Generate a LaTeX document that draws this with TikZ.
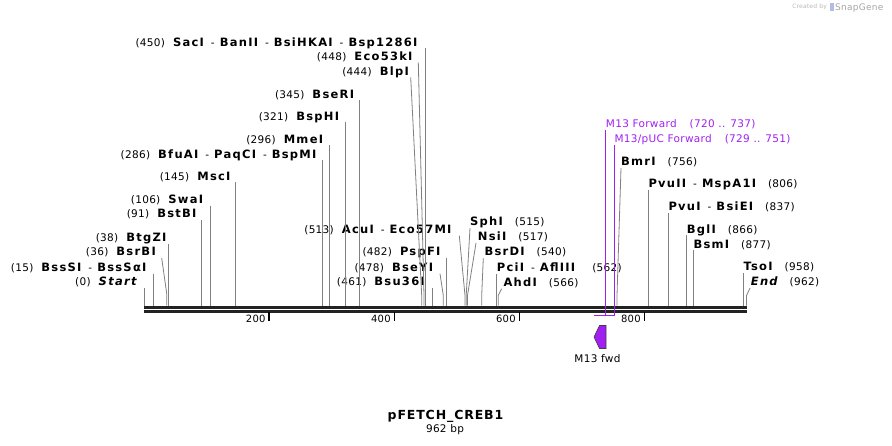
\documentclass[tikz,border=0pt]{standalone}
\usepackage{fontspec}
\setmainfont{DejaVu Sans}[LetterSpace=3]
\newfontfamily\enzfont{DejaVu Sans}[LetterSpace=11]
\newfontfamily\titlefont{DejaVu Sans}[LetterSpace=7]
\usetikzlibrary{positioning}
\definecolor{primer}{HTML}{A020F0}
\definecolor{siteline}{HTML}{808080}
\definecolor{backbone}{HTML}{222222}
\newcommand{\enz}[1]{{\enzfont\bfseries\fontsize{11.5}{12}\selectfont #1}}
\newcommand{\enzit}[1]{{\enzfont\bfseries\itshape\fontsize{11.5}{12}\selectfont #1}}
\newcommand{\dsh}{\hspace{7pt}-\hspace{5pt}}

\begin{document}
\begin{tikzpicture}[x=1pt,y=-1pt,
    lbl/.style={inner sep=0pt,text depth=2.2pt,font=\fontsize{10.5}{12}\selectfont},
    lft/.style={lbl,anchor=base east},
    rgt/.style={lbl,anchor=base west},
    site/.style={siteline,line width=0.8pt},
    primerline/.style={primer,line width=1.3pt}]

    \useasboundingbox (0,0) rectangle (892,445);

    % positions on the backbone
    \coordinate (p0) at (144.3,305.5);
    \coordinate (p15) at (153.3,305.5);
    \coordinate (p36) at (166.7,305.5);
    \coordinate (p38) at (168.3,305.5);
    \coordinate (p91) at (201.7,305.5);
    \coordinate (p106) at (210.3,305.5);
    \coordinate (p145) at (235.7,305.5);
    \coordinate (p286) at (322.5,305.5);
    \coordinate (p296) at (329.3,305.5);
    \coordinate (p321) at (345,305.5);
    \coordinate (p345) at (359.6,305.5);
    \coordinate (p444) at (421.7,305.5);
    \coordinate (p448) at (424,305.5);
    \coordinate (p450) at (425.5,305.5);
    \coordinate (p461) at (432.3,305.5);
    \coordinate (p478) at (443.3,305.5);
    \coordinate (p482) at (446,305.5);
    \coordinate (p513) at (465,305.5);
    \coordinate (p515) at (466.2,305.5);
    \coordinate (p517) at (467.5,305.5);
    \coordinate (p540) at (481.7,305.5);
    \coordinate (p562) at (496.7,305.5);
    \coordinate (p566) at (498.2,305.5);
    \coordinate (p756) at (617,305.5);
    \coordinate (p806) at (648.3,305.5);
    \coordinate (p837) at (668.3,305.5);
    \coordinate (p866) at (686.7,305.5);
    \coordinate (p877) at (693.3,305.5);
    \coordinate (p958) at (743.3,305.5);
    \coordinate (p962) at (746.5,305.5);

    % backbone
    \draw[backbone,line width=3pt] (144,307.2) -- (747,307.2);
    \draw[backbone,line width=2.6pt] (144,311.4) -- (747,311.4);
    \draw[black,line width=1.8pt] (269.3,312) -- (269.3,320.5);
    \draw[black,line width=1.8pt] (394.4,312) -- (394.4,320.5);
    \draw[black,line width=1.8pt] (519.4,312) -- (519.4,320.5);
    \draw[black,line width=1.8pt] (644.4,312) -- (644.4,320.5);
    \node[lft,font=\fontsize{10}{12}\selectfont] (t200) at (265.8,322.8) {200};
    \node[lft,font=\fontsize{10}{12}\selectfont] (t400) at (390.9,322.8) {400};
    \node[lft,font=\fontsize{10}{12}\selectfont] (t600) at (515.9,322.8) {600};
    \node[lft,font=\fontsize{10}{12}\selectfont] (t800) at (640.9,322.8) {800};

    % sites, labels on the left
    \node[lft] (sac) at (417.7,46) {(450)\hspace{8pt}\enz{SacI}\dsh\enz{BanII}\dsh\enz{BsiHKAI}\dsh\enz{Bsp1286I}};
    \node[lft] (eco53) at (412.7,60) {(448)\hspace{8pt}\enz{Eco53kI}};
    \node[lft] (blp) at (409,75) {(444)\hspace{8pt}\enz{BlpI}};
    \node[lft] (bseri) at (354.3,98) {(345)\hspace{8pt}\enz{BseRI}};
    \node[lft] (bsphi) at (339.3,120) {(321)\hspace{8pt}\enz{BspHI}};
    \node[lft] (mme) at (323.3,143) {(296)\hspace{8pt}\enz{MmeI}};
    \node[lft] (bfuai) at (316.7,158) {(286)\hspace{8pt}\enz{BfuAI}\dsh\enz{PaqCI}\dsh\enz{BspMI}};
    \node[lft] (msc) at (230.7,180) {(145)\hspace{8pt}\enz{MscI}};
    \node[lft] (swa) at (203.3,203.2) {(106)\hspace{8pt}\enz{SwaI}};
    \node[lft] (bstbi) at (196.7,217.5) {(91)\hspace{8pt}\enz{BstBI}};
    \node[lft] (btgzi) at (166.7,241.3) {(38)\hspace{8pt}\enz{BtgZI}};
    \node[lft] (bsrbi) at (156,255.7) {(36)\hspace{8pt}\enz{BsrBI}};
    \node[lft] (bsssi) at (146.7,271.3) {(15)\hspace{8pt}\enz{BssSI}\dsh\enz{BssSαI}};
    \node[lft] (start) at (136.7,285.7) {(0)\hspace{8pt}\enzit{Start}};
    \node[lft] (acu) at (451.7,233.3) {(513)\hspace{8pt}\enz{AcuI}\dsh\enz{Eco57MI}};
    \node[lft] (pspfi) at (440.7,255.7) {(482)\hspace{8pt}\enz{PspFI}};
    \node[lft] (bseyi) at (433.3,271.3) {(478)\hspace{8pt}\enz{BseYI}};
    \node[lft] (bsu36) at (425,285.7) {(461)\hspace{8pt}\enz{Bsu36I}};

    \draw[site] (p450 |- sac.south) -- (p450);
    \draw[site] ([xshift=5.6pt]eco53.south east) -- ([yshift=10pt]p448) -- (p448);
    \draw[site] ([xshift=1.7pt]blp.south east) -- ([yshift=10pt]p444) -- (p444);
    \draw[site] (p345 |- bseri.south) -- (p345);
    \draw[site] (p321 |- bsphi.south) -- (p321);
    \draw[site] (p296 |- mme.south) -- (p296);
    \draw[site] (p286 |- bfuai.south) -- (p286);
    \draw[site] (p145 |- msc.south) -- (p145);
    \draw[site] (p106 |- swa.south) -- (p106);
    \draw[site] (p91 |- bstbi.south) -- (p91);
    \draw[site] (p38 |- btgzi.south) -- (p38);
    \draw[site] ([xshift=5.7pt]bsrbi.south east) -- ([yshift=12pt]p36) -- (p36);
    \draw[site] (p15 |- bsssi.south) -- (p15);
    \draw[site] (p0 |- start.south) -- (p0);
    \draw[site] ([xshift=7.6pt]acu.south east) -- ([yshift=10pt]p513) -- (p513);
    \draw[site] (p482 |- pspfi.south) -- (p482);
    \draw[site] ([xshift=6.7pt]bseyi.south east) -- ([yshift=10pt]p478) -- (p478);
    \draw[site] (p461 |- bsu36.south) -- (p461);

    % sites, labels on the right
    \node[rgt] (sph) at (470,225.7) {\enz{SphI}\hspace{12pt}(515)};
    \node[rgt] (nsi) at (477.7,240.7) {\enz{NsiI}\hspace{12pt}(517)};
    \node[rgt] (bsrdi) at (484.3,255.7) {\enz{BsrDI}\hspace{12pt}(540)};
    \node[rgt] (pci) at (496.7,271.3) {\enz{PciI}\dsh\enz{AflIII}\hspace{17pt}(562)};
    \node[rgt] (ahd) at (503.3,286.3) {\enz{AhdI}\hspace{12pt}(566)};
    \node[rgt] (bmr) at (621,165.7) {\enz{BmrI}\hspace{12pt}(756)};
    \node[rgt] (pvuii) at (648.3,187.3) {\enz{PvuII}\dsh\enz{MspA1I}\hspace{12pt}(806)};
    \node[rgt] (pvui) at (668.3,210.7) {\enz{PvuI}\dsh\enz{BsiEI}\hspace{12pt}(837)};
    \node[rgt] (bgl) at (686.7,233) {\enz{BglI}\hspace{12pt}(866)};
    \node[rgt] (bsm) at (693.3,248) {\enz{BsmI}\hspace{12pt}(877)};
    \node[rgt] (tso) at (743.3,270.7) {\enz{TsoI}\hspace{12pt}(958)};
    \node[rgt] (fin) at (750.7,285.7) {\enzit{End}\hspace{12pt}(962)};

    \draw[site] (sph.south west) -- ([yshift=10pt]p515) -- (p515);
    \draw[site] ([xshift=-1.7pt]nsi.south west) -- ([yshift=10pt]p517) -- (p517);
    \draw[site] ([xshift=-1pt]bsrdi.south west) -- ([yshift=10pt]p540) -- (p540);
    \draw[site] (p562 |- pci.south) -- (p562);
    \draw[site] ([xshift=-1.6pt]ahd.south west) -- ([yshift=10pt]p566) -- (p566);
    \draw[site] (bmr.south west) -- ([yshift=10pt]p756) -- (p756);
    \draw[site] (p806 |- pvuii.south) -- (p806);
    \draw[site] (p837 |- pvui.south) -- (p837);
    \draw[site] (p866 |- bgl.south) -- (p866);
    \draw[site] (p877 |- bsm.south) -- (p877);
    \draw[site] (p958 |- tso.south) -- (p958);
    \draw[site] ([xshift=-0.7pt]fin.south west) -- ([yshift=10pt]p962) -- (p962);

    % primers
    \node[rgt,text=primer] (m13a) at (605.7,127.8) {M13 Forward\hspace{13pt}(720 .. 737)};
    \node[rgt,text=primer] (m13b) at (614.3,142.8) {M13/pUC Forward\hspace{13pt}(729 .. 751)};
    \coordinate (m13aend) at (594.4,315.7);
    \coordinate (m13bend) at (600,315.7);
    \draw[primerline] (m13a.south west) -- (m13a.south west |- m13aend) -- (m13aend);
    \draw[primerline] (m13b.south west) -- (m13b.south west |- m13bend) -- (m13bend);

    % feature
    \filldraw[fill=primer,draw=black!75,line width=0.6pt] (594,337) -- (599.5,325.5) -- (606,325.5) -- (606,348.5) -- (599.5,348.5) -- cycle;
    \node[font=\fontsize{10.5}{12}\selectfont,inner sep=0pt,anchor=base] (m13fwd) at (597.5,362) {M13 fwd};

    % name and size
    \node[font=\titlefont\bfseries\fontsize{12.5}{15}\selectfont,inner sep=0pt,anchor=base] (title) at (445.5,419.2) {pFETCH\_CREB1};
    \node[font=\fontsize{10.5}{12}\selectfont,inner sep=0pt,anchor=base] (size) at (445,432.5) {962 bp};

    % watermark
    \node[font=\fontsize{6}{7}\selectfont,text=black!28,inner sep=0pt,anchor=base east] (made) at (827,8.8) {Created by};
    \fill[cyan!35!blue!30] (830,3) rectangle (833.5,11);
    \node[font=\fontsize{9}{10}\selectfont,text=black!35,inner sep=0pt,anchor=base west] (snap) at (835,10) {SnapGene};
\end{tikzpicture}
\end{document}
